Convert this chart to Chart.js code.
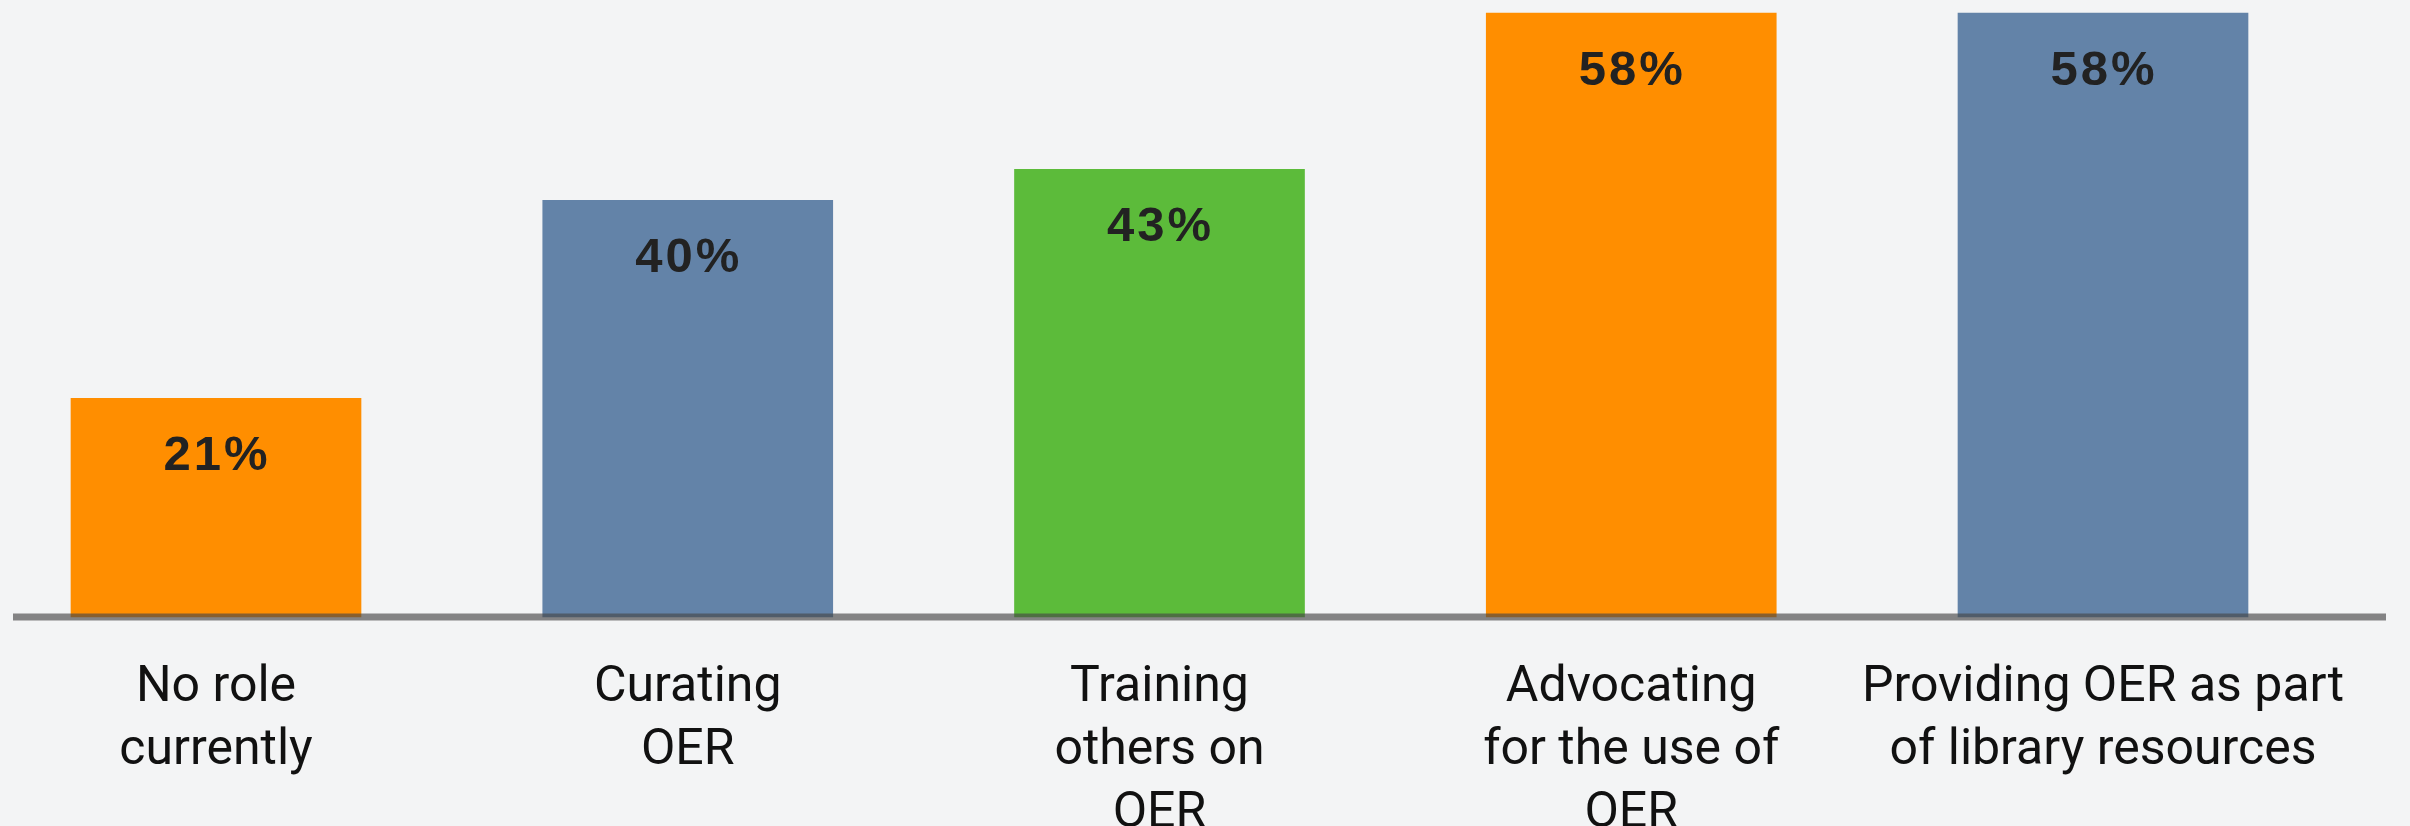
<!DOCTYPE html>
<html>
<head>
<meta charset="utf-8">
<title>OER roles</title>
<script src="https://cdn.jsdelivr.net/npm/chart.js@4.4.1/dist/chart.umd.min.js"></script>
<style>
    html, body { margin: 0; padding: 0; background: #f3f4f5; }
    #wrap { width: 2410px; height: 826px; position: relative; }
</style>
</head>
<body>
<div id="wrap"><canvas id="roleChart"></canvas></div>
<script>
// Chart data
const categories = [
    ['No role', 'currently'],
    ['Curating', 'OER'],
    ['Training', 'others on', 'OER'],
    ['Advocating', 'for the use of', 'OER'],
    ['Providing OER as part', 'of library resources']
];
const shares = [21, 40, 43, 58, 58];
const barColors = ['#ff8e00', '#6383a8', '#5cbb3a', '#ff8e00', '#6383a8'];

// Percent labels inside the top of each bar
const valueLabels = {
    id: 'valueLabels',
    afterDatasetsDraw(chart) {
        const ctx = chart.ctx;
        const meta = chart.getDatasetMeta(0);
        ctx.save();
        ctx.font = 'bold 49px "Liberation Sans", Arial, sans-serif';
        ctx.letterSpacing = '3px';
        ctx.fillStyle = '#222';
        ctx.textAlign = 'center';
        ctx.textBaseline = 'middle';
        meta.data.forEach(function (bar, i) {
            ctx.fillText(shares[i] + '%', bar.x + 1, bar.y + 58);
        });
        ctx.restore();
    }
};

// Baseline drawn across the bars
const baseline = {
    id: 'baseline',
    afterDatasetsDraw(chart) {
        const ctx = chart.ctx;
        const y = chart.scales.y.getPixelForValue(0);
        ctx.save();
        ctx.strokeStyle = 'rgba(70, 70, 70, 0.65)';
        ctx.lineWidth = 7;
        ctx.beginPath();
        ctx.moveTo(13, y);
        ctx.lineTo(2386, y);
        ctx.stroke();
        ctx.restore();
    }
};

new Chart(document.getElementById('roleChart'), {
    type: 'bar',
    data: {
        labels: categories,
        datasets: [{
            data: shares,
            backgroundColor: barColors,
            borderWidth: 0,
            barThickness: 290,
            clip: false
        }]
    },
    options: {
        responsive: true,
        maintainAspectRatio: false,
        animation: false,
        layout: {
            padding: { top: 13, left: 216, right: 307, bottom: 0 }
        },
        plugins: {
            legend: { display: false },
            tooltip: { enabled: false }
        },
        scales: {
            x: {
                offset: false,
                grid: { display: false, drawTicks: false },
                border: { display: false },
                afterFit: function (scale) {
                    scale.height = 209;
                },
                ticks: {
                    autoSkip: false,
                    maxRotation: 0,
                    minRotation: 0,
                    padding: 40,
                    color: '#111',
                    font: {
                        family: 'Roboto',
                        size: 50,
                        lineHeight: 1.26
                    }
                }
            },
            y: {
                display: false,
                min: 0,
                max: 58
            }
        }
    },
    plugins: [valueLabels, baseline]
});
</script>
</body>
</html>
